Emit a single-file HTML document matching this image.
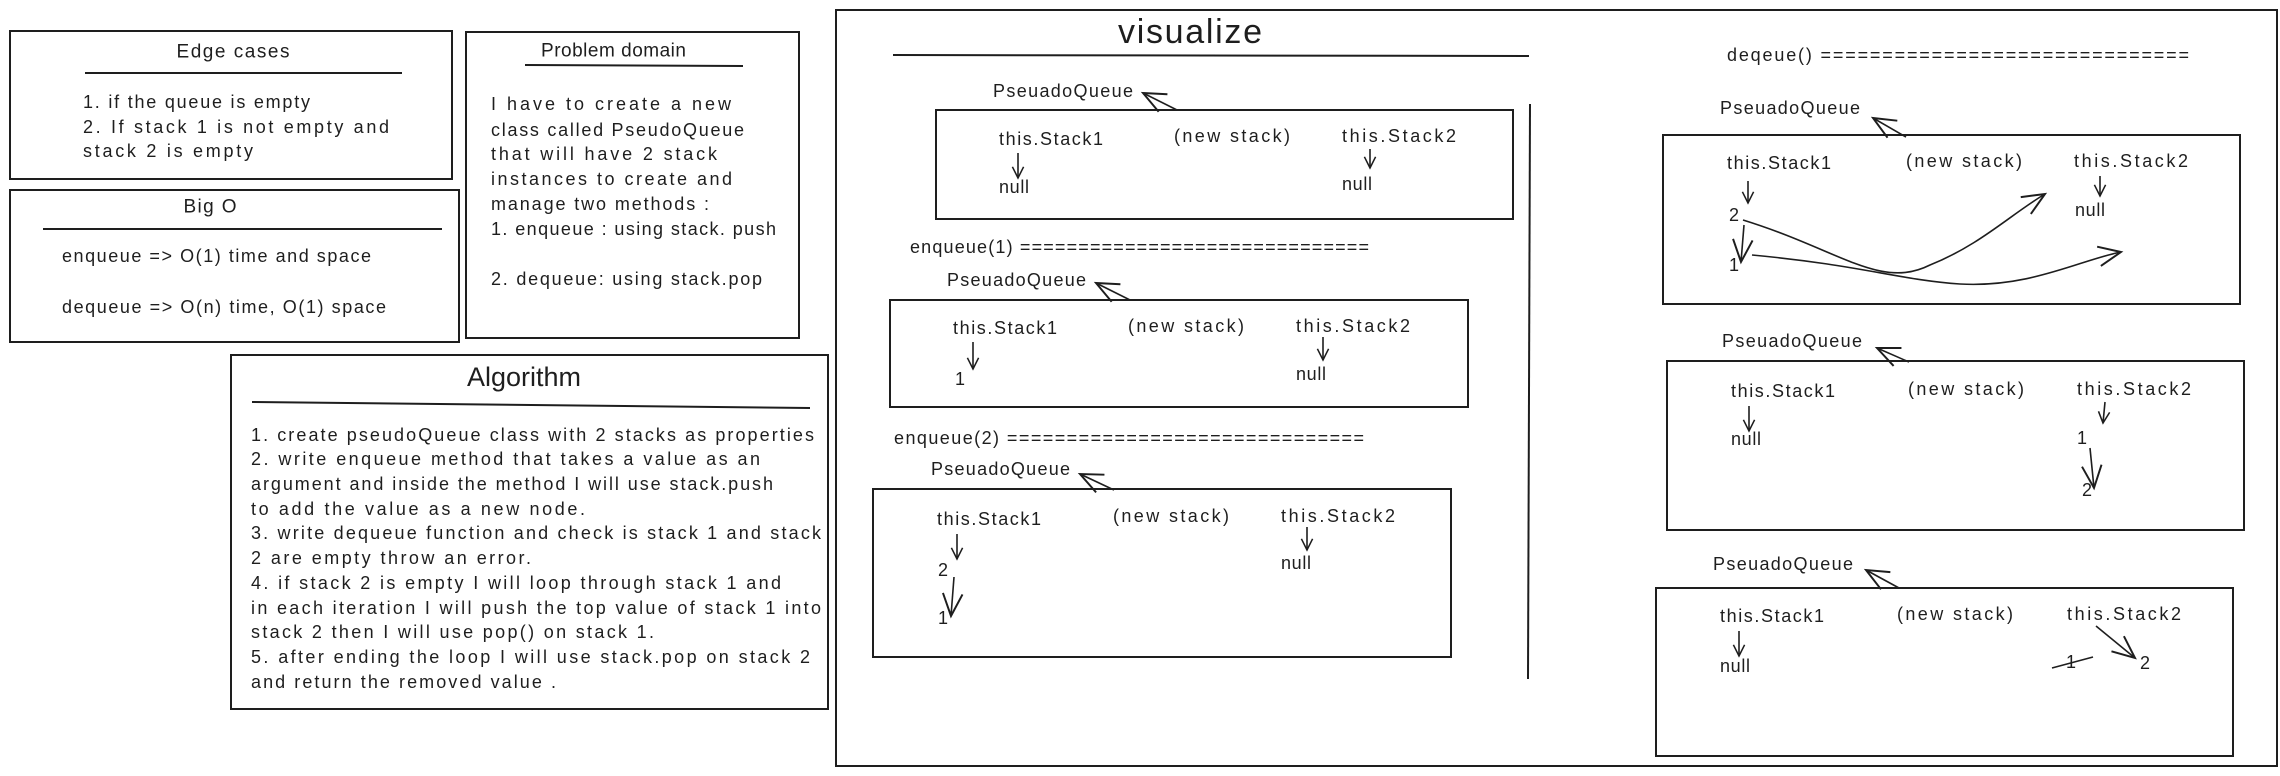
<!DOCTYPE html>
<html><head><meta charset="utf-8"><style>
html,body{margin:0;padding:0;background:#fff;}
svg{display:block;}
text{font-family:"Liberation Sans",sans-serif;fill:#1e1e1e;dominant-baseline:central;}
.t{font-size:18px;}
.h{font-size:19px;}
</style></head><body>
<svg width="2280" height="776" viewBox="0 0 2280 776" xmlns="http://www.w3.org/2000/svg">
<defs>
<marker id="a" viewBox="0 0 20 20" refX="18" refY="10" markerWidth="14" markerHeight="14" markerUnits="userSpaceOnUse" orient="auto"><path d="M2 2 L18 10 L2 18" fill="none" stroke="#1e1e1e" stroke-width="2.2"/></marker>
<marker id="b" viewBox="0 0 20 20" refX="18" refY="10" markerWidth="28" markerHeight="28" markerUnits="userSpaceOnUse" orient="auto"><path d="M2 3 L18 10 L2 17" fill="none" stroke="#1e1e1e" stroke-width="1.4"/></marker>
</defs>
<g fill="none" stroke="#1e1e1e" stroke-width="2">
<rect x="10" y="31" width="442" height="148"/>
<line x1="85" y1="73" x2="402" y2="73"/>
<rect x="10" y="190" width="449" height="152"/>
<line x1="43" y1="229" x2="442" y2="229"/>
<rect x="466" y="32" width="333" height="306"/>
<line x1="525" y1="65" x2="743" y2="66"/>
<rect x="231" y="355" width="597" height="354"/>
<line x1="252" y1="402" x2="810" y2="408"/>
<rect x="836" y="10" width="1441" height="756"/>
<line x1="893" y1="55" x2="1529" y2="56"/>
<line x1="1530" y1="104" x2="1528" y2="679"/>
<rect x="936" y="110" width="577" height="109"/>
<rect x="890" y="300" width="578" height="107"/>
<rect x="873" y="489" width="578" height="168"/>
<rect x="1663" y="135" width="577" height="169"/>
<rect x="1667" y="361" width="577" height="169"/>
<rect x="1656" y="588" width="577" height="168"/>
</g>
<g fill="none" stroke="#1e1e1e" stroke-width="1.6">
<line x1="1177" y1="110" x2="1143" y2="93" marker-end="url(#b)"/>
<line x1="1130" y1="300" x2="1096" y2="283" marker-end="url(#b)"/>
<line x1="1114" y1="490" x2="1080" y2="474" marker-end="url(#b)"/>
<line x1="1906" y1="137" x2="1873" y2="118" marker-end="url(#b)"/>
<line x1="1909" y1="362" x2="1877" y2="348" marker-end="url(#b)"/>
<line x1="1899" y1="588" x2="1866" y2="570" marker-end="url(#b)"/>
<line x1="1018" y1="153" x2="1018" y2="178" marker-end="url(#a)"/>
<line x1="1370" y1="149" x2="1370" y2="168" marker-end="url(#a)"/>
<line x1="973" y1="342" x2="973" y2="369" marker-end="url(#a)"/>
<line x1="1323" y1="337" x2="1323" y2="360" marker-end="url(#a)"/>
<line x1="957" y1="534" x2="957" y2="559" marker-end="url(#a)"/>
<line x1="954" y1="577" x2="951" y2="616" marker-end="url(#b)"/>
<line x1="1307" y1="527" x2="1307" y2="550" marker-end="url(#a)"/>
<line x1="1748" y1="181" x2="1748" y2="203" marker-end="url(#a)"/>
<line x1="1744" y1="225" x2="1741" y2="262" marker-end="url(#b)"/>
<line x1="2100" y1="176" x2="2100" y2="196" marker-end="url(#a)"/>
<line x1="1749" y1="406" x2="1749" y2="431" marker-end="url(#a)"/>
<line x1="2105" y1="402" x2="2103" y2="423" marker-end="url(#a)"/>
<line x1="2090" y1="448" x2="2094" y2="488" marker-end="url(#b)"/>
<line x1="1739" y1="631" x2="1739" y2="656" marker-end="url(#a)"/>
<line x1="2096" y1="626" x2="2135" y2="658" marker-end="url(#b)"/>
<line x1="2052" y1="668" x2="2093" y2="657"/>
<path d="M1743 220 C1840 250 1880 290 1930 265 C1980 245 2010 215 2045 194" marker-end="url(#b)"/>
<path d="M1752 255 C1860 265 1900 280 1960 284 C2030 288 2080 260 2121 252" marker-end="url(#b)"/>
</g>
<text class="h" x="233" y="52" text-anchor="middle" textLength="113">Edge cases</text>
<text class="t" x="83" y="102" textLength="227">1. if the queue is empty</text>
<text class="t" x="83" y="127" textLength="306">2. If stack 1 is not empty and</text>
<text class="t" x="83" y="151" textLength="170">stack 2 is empty</text>
<text class="h" x="210" y="207" text-anchor="middle" textLength="53">Big O</text>
<text class="t" x="62" y="256" textLength="309">enqueue =&gt; O(1) time and space</text>
<text class="t" x="62" y="307" textLength="324">dequeue =&gt; O(n) time, O(1) space</text>
<text class="h" x="541" y="51" textLength="145">Problem domain</text>
<text class="t" x="491" y="104" textLength="240">I have to create a new</text>
<text class="t" x="491" y="130" textLength="253">class called PseudoQueue</text>
<text class="t" x="491" y="154" textLength="226">that will have 2 stack</text>
<text class="t" x="491" y="179" textLength="241">instances to create and</text>
<text class="t" x="491" y="204" textLength="218">manage two methods :</text>
<text class="t" x="491" y="229" textLength="285">1. enqueue : using stack. push</text>
<text class="t" x="491" y="279" textLength="271">2. dequeue: using stack.pop</text>
<text x="524" y="377" text-anchor="middle" font-size="27" textLength="114">Algorithm</text>
<g class="t">
<text x="251" y="435" textLength="563">1. create pseudoQueue class with 2 stacks as properties</text>
<text x="251" y="459" textLength="509">2. write enqueue method that takes a value as an</text>
<text x="251" y="484" textLength="522">argument and inside the method I will use stack.push</text>
<text x="251" y="509" textLength="334">to add the value as a new node.</text>
<text x="251" y="533" textLength="570">3. write dequeue function and check is stack 1 and stack</text>
<text x="251" y="558" textLength="280">2 are empty throw an error.</text>
<text x="251" y="583" textLength="530">4. if stack 2 is empty I will loop through stack 1 and</text>
<text x="251" y="608" textLength="570">in each iteration I will push the top value of stack 1 into</text>
<text x="251" y="632" textLength="403">stack 2 then I will use pop() on stack 1.</text>
<text x="251" y="657" textLength="559">5. after ending the loop I will use stack.pop on stack 2</text>
<text x="251" y="682" textLength="305">and return the removed value .</text>
</g>
<text x="1190" y="32" text-anchor="middle" font-size="34" textLength="144">visualize</text>
<g class="t">
<text x="993" y="91" textLength="140">PseuadoQueue</text>
<text x="999" y="139" textLength="104">this.Stack1</text>
<text x="1174" y="136" textLength="116">(new stack)</text>
<text x="1342" y="136" textLength="114">this.Stack2</text>
<text x="999" y="187" textLength="30">null</text>
<text x="1342" y="184" textLength="30">null</text>
<text x="910" y="247" textLength="459">enqueue(1) ==============================</text>
<text x="947" y="280" textLength="139">PseuadoQueue</text>
<text x="953" y="328" textLength="104">this.Stack1</text>
<text x="1128" y="326" textLength="116">(new stack)</text>
<text x="1296" y="326" textLength="114">this.Stack2</text>
<text x="955" y="379">1</text>
<text x="1296" y="374" textLength="30">null</text>
<text x="894" y="438" textLength="470">enqueue(2) ==============================</text>
<text x="931" y="469" textLength="139">PseuadoQueue</text>
<text x="937" y="519" textLength="104">this.Stack1</text>
<text x="1113" y="516" textLength="116">(new stack)</text>
<text x="1281" y="516" textLength="114">this.Stack2</text>
<text x="938" y="570">2</text>
<text x="938" y="618">1</text>
<text x="1281" y="563" textLength="30">null</text>
<text x="1727" y="55" textLength="462">deqeue() ==============================</text>
<text x="1720" y="108" textLength="140">PseuadoQueue</text>
<text x="1727" y="163" textLength="104">this.Stack1</text>
<text x="1906" y="161" textLength="116">(new stack)</text>
<text x="2074" y="161" textLength="114">this.Stack2</text>
<text x="1729" y="215">2</text>
<text x="1729" y="265">1</text>
<text x="2075" y="210" textLength="30">null</text>
<text x="1722" y="341" textLength="140">PseuadoQueue</text>
<text x="1731" y="391" textLength="104">this.Stack1</text>
<text x="1908" y="389" textLength="116">(new stack)</text>
<text x="2077" y="389" textLength="114">this.Stack2</text>
<text x="1731" y="439" textLength="30">null</text>
<text x="2077" y="438">1</text>
<text x="2082" y="490">2</text>
<text x="1713" y="564" textLength="140">PseuadoQueue</text>
<text x="1720" y="616" textLength="104">this.Stack1</text>
<text x="1897" y="614" textLength="116">(new stack)</text>
<text x="2067" y="614" textLength="114">this.Stack2</text>
<text x="1720" y="666" textLength="30">null</text>
<text x="2066" y="662">1</text>
<text x="2140" y="663">2</text>
</g>
</svg>
</body></html>
